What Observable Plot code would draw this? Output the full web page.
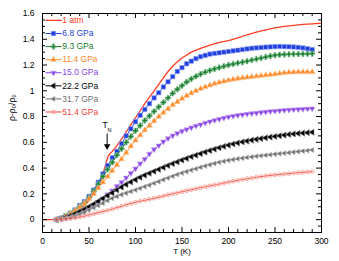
<!DOCTYPE html>
<html><head><meta charset="utf-8">
<script src="https://cdn.jsdelivr.net/npm/d3@7"></script>
<script src="https://cdn.jsdelivr.net/npm/@observablehq/plot@0.6"></script>
<style>
html,body{margin:0;padding:0;background:#fff}
svg{font-family:"Liberation Sans",Arial,sans-serif}
</style>
</head><body><div id="chart"></div>
<script>
// ---- data ----
const temps = [15,20,25,30,35,40,45,50,55,60,65,70,75,80,85,90,95,100,105,110,115,120,125,130,135,140,145,150,155,160,165,170,175,180,185,190,195,200,205,210,215,220,225,230,235,240,245,250,255,260,265,270,275,280,285,290];

const atmT = [0,5,10,15,20,25,30,35,40,45,50,55,60,63,66,68,70,71,75,80,85,90,95,100,105,110,115,120,125,130,135,140,145,150,160,170,180,190,200,210,220,230,240,250,260,270,280,290,300];
const atmV = [0,0,0,0.002,0.008,0.02,0.035,0.055,0.08,0.11,0.15,0.2,0.265,0.31,0.38,0.43,0.48,0.5,0.53,0.575,0.625,0.68,0.735,0.79,0.845,0.9,0.95,1.0,1.05,1.1,1.15,1.19,1.225,1.255,1.3,1.33,1.355,1.375,1.39,1.41,1.435,1.455,1.472,1.488,1.5,1.508,1.515,1.52,1.525];

const p68 = [0,0.01,0.03,0.05,0.075,0.11,0.14,0.18,0.23,0.29,0.355,0.42,0.48,0.53,0.59,0.65,0.705,0.76,0.81,0.855,0.9,0.945,0.985,1.03,1.07,1.11,1.15,1.18,1.21,1.23,1.25,1.265,1.275,1.285,1.29,1.295,1.3,1.305,1.31,1.315,1.32,1.325,1.33,1.333,1.336,1.339,1.341,1.343,1.344,1.343,1.342,1.34,1.337,1.333,1.327,1.32];
const p93 = [0,0.01,0.028,0.048,0.072,0.1,0.13,0.17,0.22,0.275,0.335,0.39,0.445,0.5,0.55,0.6,0.645,0.69,0.73,0.77,0.805,0.84,0.875,0.91,0.945,0.98,1.012,1.04,1.068,1.092,1.112,1.13,1.145,1.158,1.17,1.18,1.19,1.2,1.208,1.215,1.222,1.23,1.238,1.246,1.254,1.262,1.27,1.276,1.28,1.282,1.284,1.285,1.285,1.286,1.287,1.288];
const p114 = [0,0.008,0.025,0.045,0.068,0.095,0.125,0.16,0.2,0.245,0.29,0.335,0.38,0.425,0.47,0.52,0.57,0.615,0.655,0.695,0.73,0.765,0.8,0.83,0.86,0.89,0.915,0.94,0.962,0.982,1.0,1.016,1.03,1.043,1.055,1.065,1.074,1.082,1.089,1.095,1.1,1.105,1.109,1.113,1.117,1.121,1.125,1.13,1.135,1.14,1.143,1.145,1.146,1.146,1.146,1.146];
const p150 = [0,0.005,0.012,0.02,0.03,0.045,0.062,0.085,0.11,0.135,0.165,0.195,0.225,0.26,0.29,0.325,0.36,0.395,0.435,0.47,0.51,0.545,0.575,0.605,0.63,0.652,0.67,0.686,0.7,0.714,0.727,0.738,0.75,0.761,0.771,0.78,0.789,0.797,0.804,0.81,0.815,0.82,0.824,0.828,0.832,0.836,0.84,0.843,0.846,0.849,0.852,0.854,0.856,0.858,0.86,0.862];
const p222 = [0,0.008,0.018,0.03,0.045,0.062,0.08,0.1,0.12,0.142,0.164,0.187,0.208,0.23,0.252,0.273,0.292,0.31,0.328,0.345,0.36,0.375,0.39,0.405,0.42,0.434,0.448,0.462,0.475,0.488,0.5,0.512,0.524,0.536,0.547,0.558,0.568,0.578,0.587,0.595,0.603,0.61,0.617,0.623,0.629,0.635,0.641,0.646,0.651,0.656,0.661,0.665,0.669,0.672,0.675,0.678];
const p317 = [0,0.005,0.012,0.02,0.03,0.042,0.056,0.075,0.092,0.11,0.128,0.148,0.165,0.18,0.194,0.206,0.218,0.23,0.243,0.256,0.268,0.282,0.295,0.31,0.323,0.337,0.35,0.362,0.373,0.384,0.395,0.406,0.416,0.426,0.436,0.445,0.453,0.46,0.466,0.472,0.477,0.482,0.487,0.492,0.496,0.5,0.504,0.508,0.512,0.516,0.52,0.524,0.528,0.532,0.536,0.54];
const p514 = [0,0.002,0.005,0.009,0.014,0.02,0.027,0.036,0.045,0.054,0.063,0.072,0.082,0.093,0.104,0.115,0.125,0.135,0.143,0.15,0.158,0.166,0.174,0.183,0.192,0.2,0.208,0.216,0.224,0.232,0.24,0.248,0.255,0.262,0.269,0.276,0.284,0.291,0.298,0.305,0.311,0.317,0.323,0.329,0.334,0.339,0.343,0.347,0.351,0.354,0.357,0.361,0.364,0.367,0.37,0.373];

const seriesNames = ["1 atm","6.8 GPa","9.3 GPa","11.4 GPa","15.0 GPa","22.2 GPa","31.7 GPa","51.4 GPa"];
const xTicks = [0,50,100,150,200,250,300];
const yTicks = [0,0.2,0.4,0.6,0.8,1,1.2,1.4,1.6];
const xLabel = "T (K)";
const yLabel = "ρ-ρ₀/ρ₀";
const tnLabel = ["T","N"];
const tnT = 69.5;

// ---- styles ----
const styles = [
  {color:"#ff3a22", symbol:null},
  {color:"#1f3fe0", symbol:"square", r:2.5, rotate:0, fill:"#1f3fe0", stroke:"#93a6f2"},
  {color:"#177a2c", symbol:"cross", r:2.3, rotate:0, fill:"#177a2c", stroke:"#8cc79a"},
  {color:"#ff8a2a", symbol:"triangle", r:2.1, rotate:0, fill:"#ff8a2a", stroke:"#ffc08a"},
  {color:"#8a46e6", symbol:"triangle", r:2.1, rotate:180, fill:"#8a46e6", stroke:"#c7a8f4"},
  {color:"#000000", symbol:"triangle", r:2.3, rotate:-90, fill:"#000000", stroke:"#888888"},
  {color:"#707070", symbol:"triangle", r:1.9, rotate:-90, fill:"#707070", stroke:"#bbbbbb"},
  {color:"#f04535", symbol:"circle", r:1.9, rotate:0, fill:"none", stroke:"#f7a098"}
];

const pVals = [null,p68,p93,p114,p150,p222,p317,p514];
const atmRows = atmT.map((t,i)=>({T:t, v:atmV[i]}));
const marks = [];

// series
marks.push(Plot.line(atmRows, {x:"T", y:"v", stroke:styles[0].color, strokeWidth:1.3}));
for (let s=1; s<8; s++){
  const rows = temps.map((t,i)=>({T:t, v:pVals[s][i]}));
  const st = styles[s];
  marks.push(Plot.line(rows, {x:"T", y:"v", stroke:st.color, strokeWidth:1}));
  marks.push(Plot.dot(rows, {x:"T", y:"v", symbol:()=>st.symbol, r:st.r, rotate:st.rotate,
    fill:st.fill, stroke:st.stroke, strokeWidth:st.fill==="none"?0.9:0.6}));
}

// legend
const legRows = seriesNames.map((n,i)=>({name:n, i, y:1.546 - i*0.1015}));
for (const d of legRows){
  const st = styles[d.i];
  marks.push(Plot.line([{T:3.7,v:d.y},{T:20.1,v:d.y}], {x:"T", y:"v", stroke:st.color, strokeWidth:d.i===0?1.3:1}));
  if (st.symbol) marks.push(Plot.dot([{T:11.8,v:d.y}], {x:"T", y:"v", symbol:()=>st.symbol, r:st.r, rotate:st.rotate, fill:st.fill, stroke:st.stroke, strokeWidth:st.fill==="none"?0.9:0.6}));
  marks.push(Plot.text([d], {x:()=>21.3, y:"y", text:"name", textAnchor:"start", fill:st.color, fontSize:8.5}));
}

// T_N annotation
marks.push(Plot.text([tnLabel[0]], {x:()=>tnT-2.2, y:()=>0.73, text:d=>d, fontSize:8.5, fill:"#000"}));
marks.push(Plot.text([tnLabel[1]], {x:()=>tnT+2.6, y:()=>0.69, text:d=>d, fontSize:5.5, fill:"#000"}));
marks.push(Plot.link([0], {x1:()=>tnT, x2:()=>tnT, y1:()=>0.668, y2:()=>0.575, stroke:"#000", strokeWidth:1}));
marks.push(Plot.dot([0], {x:()=>tnT, y:()=>0.57, symbol:"triangle", r:2.4, rotate:180, fill:"#000"}));

// frame & ticks
const PW = 279, PH = 219;
const xMinor = d3.range(0, 301, 10).filter(v=>v%50!==0);
const yMinor = d3.range(-0.1, 1.6001, 0.05).map(v=>+v.toFixed(2)).filter(v=>Math.abs((v/0.2)-Math.round(v/0.2))>1e-6);
marks.push(Plot.tickX(xTicks, {x:d=>d, insetTop:PH-5, stroke:"#000"}));
marks.push(Plot.tickX(xTicks, {x:d=>d, insetBottom:PH-5, stroke:"#000"}));
marks.push(Plot.tickX(xMinor, {x:d=>d, insetTop:PH-3, stroke:"#000"}));
marks.push(Plot.tickX(xMinor, {x:d=>d, insetBottom:PH-3, stroke:"#000"}));
marks.push(Plot.tickY(yTicks, {y:d=>d, insetRight:PW-5, stroke:"#000"}));
marks.push(Plot.tickY(yTicks, {y:d=>d, insetLeft:PW-5, stroke:"#000"}));
marks.push(Plot.tickY(yMinor, {y:d=>d, insetRight:PW-3, stroke:"#000"}));
marks.push(Plot.tickY(yMinor, {y:d=>d, insetLeft:PW-3, stroke:"#000"}));
marks.push(Plot.frame({stroke:"#000", strokeWidth:1}));
marks.push(Plot.axisX({ticks:xTicks, tickSize:0, tickPadding:5, tickFormat:d=>String(d), fontSize:8.5, label:null}));
marks.push(Plot.axisY({ticks:yTicks, tickSize:0, tickPadding:8, tickFormat:d=>String(+d.toFixed(1)), fontSize:8.5, label:null}));
marks.push(Plot.text([xLabel], {frameAnchor:"bottom", dy:21, text:d=>d, fontSize:8, fill:"#000"}));
marks.push(Plot.text([yLabel], {frameAnchor:"left", dx:-30, dy:-2, rotate:-90, text:d=>d, fontSize:8.5, fill:"#000"}));

const chart = Plot.plot({
  width:339, height:261,
  marginLeft:42, marginRight:18, marginTop:13, marginBottom:29,
  style:{fontFamily:"Liberation Sans, Arial, sans-serif", fontSize:"8.5px", background:"#fff", color:"#000"},
  x:{domain:[0,300], axis:null},
  y:{domain:[-0.1,1.6], axis:null},
  marks
});
document.getElementById("chart").appendChild(chart);
</script>
</body></html>
